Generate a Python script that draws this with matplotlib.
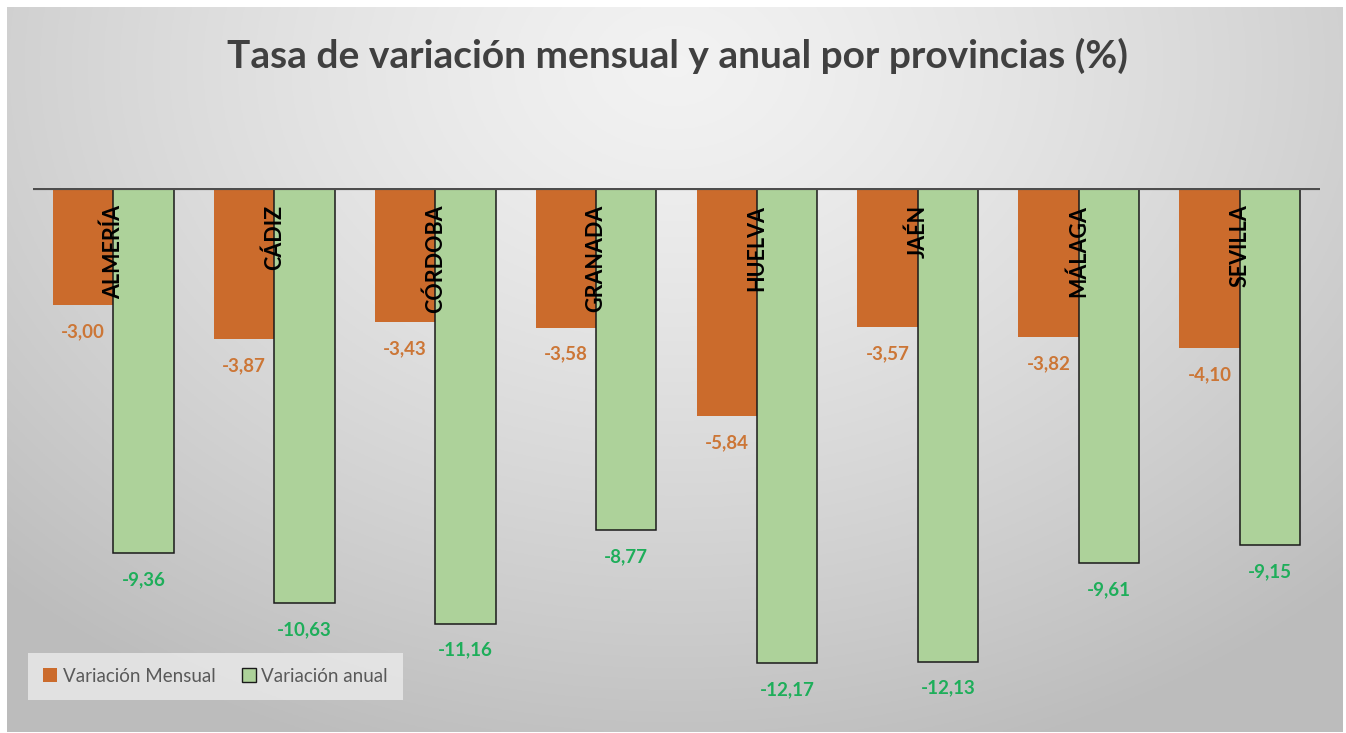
import numpy as np
import matplotlib
matplotlib.use("Agg")
import matplotlib.pyplot as plt
from matplotlib.patches import Patch

provincias = ["ALMERÍA", "CÁDIZ", "CÓRDOBA", "GRANADA", "HUELVA", "JAÉN", "MÁLAGA", "SEVILLA"]
var_mensual = [-3.00, -3.87, -3.43, -3.58, -5.84, -3.57, -3.82, -4.10]
var_anual = [-9.36, -10.63, -11.16, -8.77, -12.17, -12.13, -9.61, -9.15]
series_names = ["Variación Mensual", "Variación anual"]

ORANGE = "#CB6B2C"
ORANGE_TXT = "#CC7636"
GREEN = "#ADD29A"
GREEN_TXT = "#1EAE5A"
FONT = "Lato"

W, H = 1346, 733
fig = plt.figure(figsize=(W / 100, H / 100), dpi=100)
fig.patch.set_facecolor("white")

# gradient background panel
bg = fig.add_axes([7 / W, 1 - 732 / H, (1343 - 7) / W, (732 - 7) / H])
yy, xx = np.mgrid[0:1:300j, 0:1:600j]
r = np.sqrt(((xx - 0.5) / 0.72) ** 2 + ((yy - 0.08) / 1.0) ** 2)
r = np.clip(r, 0, 1)
shade = 0.95 - 0.21 * r ** 1.3
bg.imshow(np.dstack([shade] * 3), aspect="auto", extent=[0, 1, 0, 1], origin="upper")
bg.axis("off")

ax = fig.add_axes([33 / W, 1 - 676 / H, 1287 / W, (676 - 188) / H])
ax.patch.set_alpha(0)
x = np.arange(len(provincias))
bw = 0.375
ax.bar(x - bw / 2, var_mensual, bw, color=ORANGE, linewidth=0, zorder=2)
ax.bar(x + bw / 2, var_anual, bw, color=GREEN, edgecolor="#1a1a1a", linewidth=1.1, zorder=2)
ax.set_xlim(-0.5, len(provincias) - 0.5)
ax.set_ylim(-12.5, 0)
ax.axhline(0, color="#4d4d4d", lw=3, zorder=3)
for s in ax.spines.values():
    s.set_visible(False)
ax.set_xticks([])
ax.set_yticks([])

for xi, v in zip(x - bw / 2, var_mensual):
    ax.annotate(f"{v:.2f}".replace(".", ","), (xi, v), xytext=(0, -19), textcoords="offset points",
                ha="center", va="center", fontsize=13.5, fontweight="bold", color=ORANGE_TXT,
                family=FONT, annotation_clip=False)
for xi, v in zip(x + bw / 2, var_anual):
    ax.annotate(f"{v:.2f}".replace(".", ","), (xi, v), xytext=(0, -19), textcoords="offset points",
                ha="center", va="center", fontsize=13.5, fontweight="bold", color=GREEN_TXT,
                family=FONT, annotation_clip=False)

for xi, name in zip(x, provincias):
    ax.annotate(name, (xi, 0), xytext=(0, -12), textcoords="offset points", rotation=90,
                ha="center", va="top", fontsize=15.5, fontweight="bold", color="black",
                family=FONT, zorder=4)

fig.text(0.503, 1 - 56 / H, "Tasa de variación mensual y anual por provincias (%)",
         ha="center", va="center", fontsize=28, fontweight="bold", color="#404040", family=FONT)

handles = [Patch(facecolor=ORANGE, edgecolor="none"),
           Patch(facecolor=GREEN, edgecolor="#1a1a1a", linewidth=1.0)]
leg = fig.legend(handles, series_names, loc="center left", bbox_to_anchor=(28 / W, 1 - 676 / H),
                 ncol=2, frameon=True, handlelength=0.75, handleheight=0.75, borderaxespad=0,
                 handletextpad=0.3, columnspacing=1.4, borderpad=0.8,
                 prop={"family": FONT, "size": 13.5})
leg.get_frame().set_facecolor("#EBEBEB")
leg.get_frame().set_alpha(0.8)
leg.get_frame().set_edgecolor("none")
leg.get_frame().set_boxstyle("square", pad=0.0)
for t in leg.get_texts():
    t.set_color("#595959")

fig.savefig("out.png", dpi=100)
